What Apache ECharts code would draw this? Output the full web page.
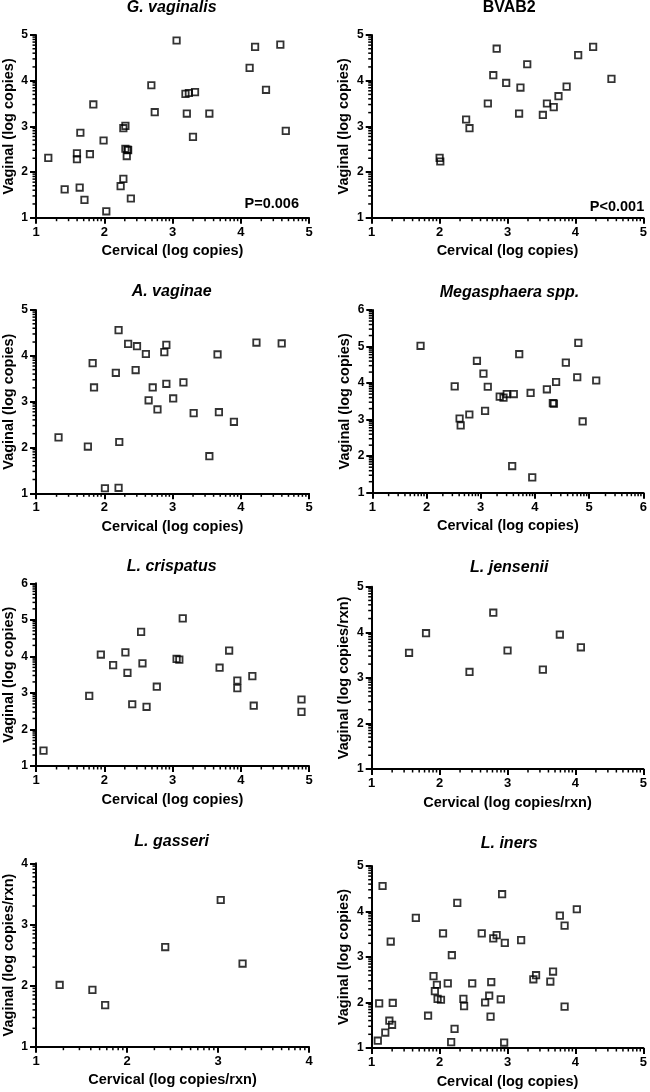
<!DOCTYPE html>
<html><head><meta charset="utf-8">
<script src="https://cdn.jsdelivr.net/npm/echarts@6/dist/echarts.min.js"></script>
<style>html,body{margin:0;padding:0;background:#fff}#c{width:650px;height:1092px}</style>
</head><body><div id="c"></div>
<script>
// ---- Data (log copies) ----
const gvagCervical = [1.18,1.42,1.64,1.71,1.60,1.60,1.65,1.79,1.84,1.99,2.03,2.24,2.28,2.28,2.31,2.31,2.34,2.33,2.35,2.39,2.69,2.74,3.06,3.19,3.24,3.33,3.21,3.30,3.54,4.13,4.21,4.37,4.58,4.66];
const gvagVaginal  = [2.31,1.62,1.66,1.39,2.41,2.28,2.86,2.39,3.48,2.69,1.14,1.69,1.85,2.96,3.01,2.51,2.49,2.35,2.48,1.42,3.90,3.31,4.88,3.71,3.73,3.75,3.28,2.77,3.28,4.28,4.74,3.80,4.79,2.90];

const bvab2Cervical = [2.00,2.01,2.39,2.44,2.71,2.79,2.84,2.98,3.19,3.17,3.29,3.52,3.58,3.68,3.75,3.87,4.04,4.26,4.53];
const bvab2Vaginal  = [2.31,2.23,3.15,2.96,3.50,4.12,4.70,3.95,3.85,3.28,4.36,3.25,3.50,3.42,3.66,3.87,4.56,4.74,4.04];

const avagCervical = [1.33,1.76,1.83,1.85,2.01,2.21,2.22,2.21,2.17,2.35,2.48,2.46,2.61,2.65,2.71,2.78,2.88,2.91,2.91,3.01,3.16,3.31,3.54,3.66,3.68,3.90,4.23,4.60];
const avagVaginal  = [2.22,2.02,3.84,3.31,1.11,1.12,2.12,4.56,3.63,4.26,4.21,3.69,4.04,3.03,3.31,2.83,4.08,4.24,3.39,3.07,3.42,2.75,1.81,4.03,2.77,2.56,4.29,4.27];

const megaCervical = [1.89,2.52,2.61,2.63,2.79,2.93,3.05,3.13,3.08,3.35,3.42,3.48,3.61,3.71,3.58,3.92,3.95,4.22,4.39,4.33,4.35,4.57,4.78,4.80,4.88,5.13];
const megaVaginal  = [5.02,3.91,3.03,2.84,3.14,4.61,4.26,3.90,3.24,3.63,3.60,3.70,3.70,4.79,1.73,3.73,1.42,3.83,4.03,3.45,3.44,4.56,4.16,5.10,2.95,4.07];

const lcrisCervical = [1.11,1.78,1.95,2.13,2.31,2.34,2.41,2.54,2.56,2.62,2.77,3.06,3.10,3.15,3.69,3.83,3.95,3.95,4.17,4.19,4.89,4.89];
const lcrisVaginal  = [1.42,2.92,4.05,3.76,4.11,3.55,2.69,4.67,3.81,2.62,3.17,3.93,3.91,5.04,3.69,4.16,3.34,3.13,3.46,2.65,2.82,2.48];

const ljenCervical = [1.55,1.80,2.44,2.79,3.00,3.52,3.77,4.08];
const ljenVaginal  = [3.55,3.98,3.13,4.43,3.60,3.18,3.95,3.67];

const lgasCervical = [1.26,1.62,1.76,2.42,3.03,3.27];
const lgasVaginal  = [2.01,1.93,1.68,2.63,3.40,2.36];

const linCervical = [1.09,1.11,1.16,1.20,1.26,1.30,1.31,1.28,1.65,1.83,1.91,1.93,1.96,1.97,2.02,2.05,2.12,2.18,2.22,2.17,2.26,2.35,2.36,2.48,2.62,2.67,2.73,2.76,2.75,2.79,2.84,2.90,2.92,2.96,2.95,3.20,3.38,3.42,3.63,3.67,3.77,3.84,3.84,4.02];
const linVaginal  = [1.16,1.98,4.56,1.34,1.60,1.51,1.99,3.34,3.86,1.71,2.58,2.25,2.39,2.08,2.06,3.52,2.42,3.04,1.42,1.13,4.19,2.08,1.92,2.42,3.52,2.00,2.15,2.45,1.69,3.41,3.48,2.07,4.38,3.31,1.12,3.37,2.51,2.60,2.46,2.68,3.91,3.69,1.91,4.05];

// ---- Labels ----
const panelTitles = ['G. vaginalis','BVAB2','A. vaginae','Megasphaera spp.','L. crispatus','L. jensenii','L. gasseri','L. iners'];
const titleItalic = [true,false,true,true,true,true,true,true];
const xNames = ['Cervical (log copies)','Cervical (log copies)','Cervical (log copies)','Cervical (log copies)','Cervical (log copies)','Cervical (log copies/rxn)','Cervical (log copies/rxn)','Cervical (log copies)'];
const yNames = ['Vaginal (log copies)','Vaginal (log copies)','Vaginal (log copies)','Vaginal (log copies)','Vaginal (log copies)','Vaginal (log copies/rxn)','Vaginal (log copies/rxn)','Vaginal (log copies)'];
const xRanges = [[1,5],[1,5],[1,5],[1,6],[1,5],[1,5],[1,4],[1,5]];
const yRanges = [[1,5],[1,5],[1,5],[1,6],[1,6],[1,5],[1,4],[1,5]];
const pLabels = ['P=0.006','P<0.001','','','','','',''];

const seriesX = [gvagCervical,bvab2Cervical,avagCervical,megaCervical,lcrisCervical,ljenCervical,lgasCervical,linCervical];
const seriesY = [gvagVaginal,bvab2Vaginal,avagVaginal,megaVaginal,lcrisVaginal,ljenVaginal,lgasVaginal,linVaginal];

// ---- Layout ----
const grids = [
  {left:34.3, top:35,    width:274.7, height:182.7, ty:8},
  {left:371.7,top:35,    width:275,   height:182.7, ty:8},
  {left:34.3, top:310,   width:274.7, height:183.3, ty:291.7},
  {left:372.3,top:310,   width:274.3, height:182.7, ty:292.7},
  {left:34.3, top:583.3, width:274.7, height:182.7, ty:566.7},
  {left:371.7,top:586.7, width:275,   height:182.3, ty:567.7},
  {left:34.3, top:863.3, width:274.7, height:183.4, ty:841.7},
  {left:371.7,top:866,   width:275,   height:182,   ty:843.3}
];

const FONT = '"Liberation Sans", Arial, sans-serif';
const BLACK = '#000';
const MINOR_LEN = 3.5;

function logMinors(a, b) {
  const out = [];
  for (let n = a; n < b; n++) for (let k = 2; k <= 9; k++) out.push(n + Math.log10(k));
  return out;
}

const option = {
  animation: false,
  backgroundColor: '#fff',
  grid: [], xAxis: [], yAxis: [], series: [], graphic: []
};

grids.forEach((g, i) => {
  option.grid.push({left:g.left, top:g.top, width:g.width, height:g.height, containLabel:false});
  const [x0, x1] = xRanges[i], [y0, y1] = yRanges[i];
  const labelStyle = {fontFamily:FONT, fontWeight:'bold', color:BLACK};
  option.xAxis.push({
    gridIndex:i, type:'value', min:x0, max:x1, interval:1, position:'bottom',
    axisLine:{show:true, onZero:false, lineStyle:{color:BLACK, width:2}},
    axisTick:{show:true, length:6, lineStyle:{color:BLACK, width:2}},
    axisLabel:Object.assign({show:true, margin:8, fontSize:13}, labelStyle),
    splitLine:{show:false},
    name:xNames[i], nameLocation:'middle', nameGap:26,
    nameTextStyle:Object.assign({fontSize:14.5}, labelStyle)
  });
  option.yAxis.push({
    gridIndex:i, type:'value', min:y0, max:y1, interval:1, position:'left',
    axisLine:{show:true, onZero:false, lineStyle:{color:BLACK, width:2}},
    axisTick:{show:true, length:6, lineStyle:{color:BLACK, width:2}},
    axisLabel:Object.assign({show:true, margin:8, fontSize:12}, labelStyle),
    splitLine:{show:false},
    name:yNames[i], nameLocation:'middle', nameGap:20,
    nameTextStyle:Object.assign({fontSize:14.5}, labelStyle)
  });
  // log-style minor ticks, placed through the axis scales
  option.series.push({
    type:'custom', xAxisIndex:i, yAxisIndex:i, clip:false, silent:true, z:3,
    data: logMinors(x0, x1).map(v => [v, y0]),
    renderItem: (params, api) => {
      const p = api.coord([api.value(0), api.value(1)]);
      return {type:'line', shape:{x1:p[0], y1:p[1], x2:p[0], y2:p[1] + MINOR_LEN},
        style:{stroke:BLACK, lineWidth:1.5}};
    }
  });
  option.series.push({
    type:'custom', xAxisIndex:i, yAxisIndex:i, clip:false, silent:true, z:3,
    data: logMinors(y0, y1).map(v => [x0, v]),
    renderItem: (params, api) => {
      const p = api.coord([api.value(0), api.value(1)]);
      return {type:'line', shape:{x1:p[0] - MINOR_LEN, y1:p[1], x2:p[0], y2:p[1]},
        style:{stroke:BLACK, lineWidth:1.5}};
    }
  });
  option.series.push({
    type:'scatter', xAxisIndex:i, yAxisIndex:i,
    data: seriesX[i].map((x, j) => [x, seriesY[i][j]]),
    symbol:'rect', symbolSize:6.4,
    itemStyle:{color:'rgba(0,0,0,0)', borderColor:BLACK, borderWidth:1.8},
    emphasis:{disabled:true}, clip:false
  });
  option.graphic.push({
    type:'text', x:g.left + g.width/2, y:g.ty, silent:true,
    style:{text:panelTitles[i], fill:BLACK,
      font:(titleItalic[i] ? 'italic ' : '') + 'bold 16px ' + FONT,
      align:'center', verticalAlign:'middle', textAlign:'center', textVerticalAlign:'middle'}
  });
  if (pLabels[i]) {
    option.graphic.push({
      type:'text', x:g.left + g.width - (i === 0 ? 10 : 2.5), y:g.top + g.height - (i === 0 ? 13.7 : 10.4), silent:true,
      style:{text:pLabels[i], fill:BLACK, font:'bold 14.5px ' + FONT,
        align:'right', verticalAlign:'middle', textAlign:'right', textVerticalAlign:'middle'}
    });
  }
});

const chart = echarts.init(document.getElementById('c'), null, {renderer:'canvas'});
chart.setOption(option);
</script>
</body></html>
